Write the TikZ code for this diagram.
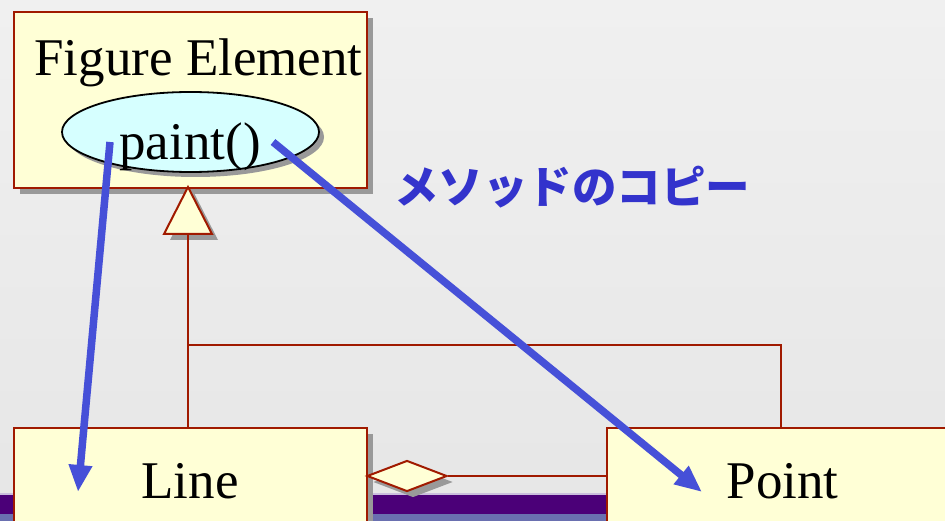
\documentclass[tikz,border=0pt]{standalone}
\usepackage{fontspec}
\setmainfont{Liberation Serif}
\newfontfamily\cjk{Noto Sans CJK JP}
\usetikzlibrary{shapes.geometric,shadows,arrows.meta}
\definecolor{bord}{HTML}{A01A00}
\definecolor{boxfill}{HTML}{FFFFD6}
\definecolor{ellfill}{HTML}{D6FFFF}
\definecolor{shadowgray}{HTML}{999999}
\definecolor{arrowblue}{HTML}{4650D8}
\definecolor{jpblue}{HTML}{3333CC}
\definecolor{band}{HTML}{4B0078}
\definecolor{bandlow}{HTML}{6A70B0}
\definecolor{bandline}{HTML}{CBBEDD}
\definecolor{bgtop}{HTML}{F0F0F0}
\definecolor{bgbot}{HTML}{E6E6E6}
\begin{document}
\begin{tikzpicture}[x=1pt,y=-1pt,
  shadowed/.style={general shadow={fill=shadowgray, shadow xshift=6pt, shadow yshift=-6pt}},
  umlbox/.style={rectangle, draw=bord, line width=2pt, fill=boxfill, inner sep=0pt, shadowed},
  methodell/.style={ellipse, draw=black, line width=1.8pt, fill=ellfill, inner sep=0pt,
    general shadow={fill=shadowgray, shadow xshift=5pt, shadow yshift=-5pt}},
  agg/.style={diamond, draw=bord, line width=2pt, fill=boxfill, inner sep=0pt, shadowed},
  txt/.style={font=\fontsize{53}{60}\selectfont, inner sep=0pt, anchor=base},
  jptxt/.style={font=\cjk\bfseries\fontsize{44.5}{50}\selectfont, text=jpblue, inner sep=0pt, anchor=base},
  conn/.style={draw=bord, line width=2pt},
  copyarrow/.style={draw=arrowblue, line width=7.5pt, -{Triangle[length=27pt,width=22pt]}}
]
\useasboundingbox (0,0) rectangle (945,521);
% background
\shade[top color=bgtop, bottom color=bgbot] (0,0) rectangle (945,521);
\fill[bandline] (0,493) rectangle (945,495);
\fill[band] (0,495) rectangle (945,514);
\fill[bandlow] (0,514) rectangle (945,521);

% Figure Element class
\node[umlbox, minimum width=353pt, minimum height=176pt] (fig) at (190.5,100) {};
\node[txt] (figtitle) at (198.5,76) {Figure Element};
\node[methodell, minimum width=257pt, minimum height=80pt] (paint) at (190.5,132) {};
\node[txt] (painttxt) at (190,160) {paint()};

% inheritance triangle
\coordinate (apex) at (188,187);
\coordinate (tribase) at (188,234);
\coordinate (tril) at (164,234);
\coordinate (trir) at (212,234);
\fill[shadowgray] ([shift={(6,6)}]apex) -- ([shift={(6,6)}]tril) -- ([shift={(6,6)}]trir) -- cycle;
\draw[bord, line width=2pt, fill=boxfill, line join=miter] (apex) -- (tril) -- (trir) -- cycle;

% Line and Point classes
\node[umlbox, minimum width=353pt, minimum height=130pt] (linebox) at (190.5,493) {};
\node[txt] (linetxt) at (190,498) {Line};
\node[umlbox, minimum width=400pt, minimum height=130pt] (pointbox) at (807,493) {};
\node[txt] (pointtxt) at (782.5,498) {Point};

% generalization connectors
\coordinate (junction) at (188,345);
\coordinate (corner) at (781,345);
\draw[conn] (tribase) -- (tribase |- linebox.north);
\draw[conn] (junction) -- (corner) -- (corner |- pointbox.north);

% aggregation
\node[agg, minimum width=80pt, minimum height=31pt, aspect=2.58] (dia) at (407,476) {};
\draw[conn] (dia.east) -- (dia.east -| pointbox.west);

% label
\node[jptxt] (copylabel) at (572,204) {メソッドのコピー};

% copy arrows
\coordinate (a1s) at (110,142);
\coordinate (a1e) at (78,492);
\coordinate (a2s) at (273,142);
\coordinate (a2e) at (702,492);
\draw[copyarrow] (a1s) -- (a1e);
\draw[copyarrow] (a2s) -- (a2e);
\end{tikzpicture}
\end{document}
